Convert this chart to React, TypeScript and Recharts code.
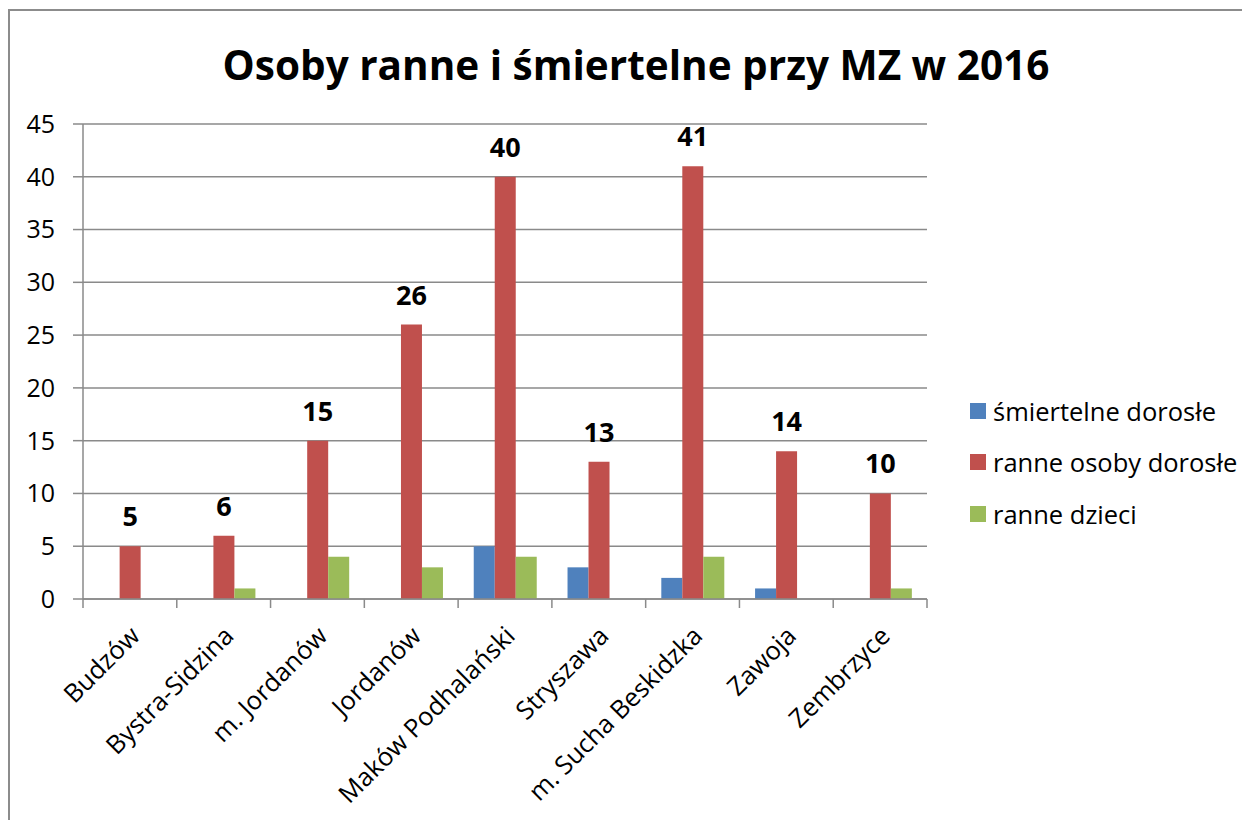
import { BarChart, Bar, XAxis, YAxis, CartesianGrid, Legend, LabelList } from "recharts";

const categories = [
  "Budzów",
  "Bystra-Sidzina",
  "m. Jordanów",
  "Jordanów",
  "Maków Podhalański",
  "Stryszawa",
  "m. Sucha Beskidzka",
  "Zawoja",
  "Zembrzyce",
];
const fatalAdults = [0, 0, 0, 0, 5, 3, 2, 1, 0];
const injuredAdults = [5, 6, 15, 26, 40, 13, 41, 14, 10];
const injuredChildren = [0, 1, 4, 3, 4, 0, 4, 0, 1];
const yTicks = [0, 5, 10, 15, 20, 25, 30, 35, 40, 45];

const seriesNames = ["śmiertelne dorosłe", "ranne osoby dorosłe", "ranne dzieci"];
const colors = ["#4F81BD", "#C0504D", "#9BBB59"];

const data = categories.map((name, i) => ({
  name,
  fatal: fatalAdults[i] || null,
  adults: injuredAdults[i] || null,
  kids: injuredChildren[i] || null,
}));

const FONT = "'Open Sans', sans-serif";
const GRID = "#8a8a8a";

const CategoryTick = (props: any) => {
  const { x, y, payload, index } = props;
  const half = payload.offset ?? 0;
  return (
    <g>
      <line x1={x - half} x2={x - half} y1={y} y2={y + 9} stroke={GRID} strokeWidth={1.5} />
      {index === categories.length - 1 && (
        <line x1={x + half} x2={x + half} y1={y} y2={y + 9} stroke={GRID} strokeWidth={1.5} />
      )}
      <text
        x={x - 2}
        y={y + 25}
        dy="0.75em"
        textAnchor="end"
        transform={`rotate(-45 ${x - 2} ${y + 25})`}
        fontSize={25.5}
        fontFamily={FONT}
        fill="#000"
      >
        {payload.value}
      </text>
    </g>
  );
};

const LegendContent = () => (
  <div style={{ paddingLeft: 43, fontFamily: FONT, fontSize: 25.5, color: "#000" }}>
    {seriesNames.map((n, i) => (
      <div key={n} style={{ display: "flex", alignItems: "center", height: 51.5 }}>
        <span style={{ width: 16, height: 16, background: colors[i], marginRight: 7, flexShrink: 0 }} />
        <span style={{ whiteSpace: "nowrap" }}>{n}</span>
      </div>
    ))}
  </div>
);

export default function App() {
  return (
    <div style={{ position: "relative", width: 1242, height: 812 }}>
      <div
        style={{
          position: "absolute",
          left: 0,
          top: 1,
          width: 1250,
          height: 820,
          borderTop: "2.5px solid #8c8c8c",
          borderLeft: "2.5px solid #8c8c8c",
        }}
      />
      <div
        style={{
          position: "absolute",
          left: 0,
          width: 1256,
          top: 29,
          textAlign: "center",
          fontFamily: FONT,
          fontWeight: 700,
          fontSize: 40.5,
          color: "#000",
        }}
      >
        Osoby ranne i śmiertelne przy MZ w 2016
      </div>
      <BarChart
        width={1242}
        height={812}
        data={data}
        margin={{ top: 116, right: 40, left: 0, bottom: 11 }}
        barCategoryGap="16.67%"
        barGap={0}
      >
        <CartesianGrid vertical={false} stroke={GRID} strokeWidth={1.5} />
        <XAxis
          dataKey="name"
          interval={0}
          height={210}
          tickSize={0}
          tickMargin={0}
          tickLine={false}
          axisLine={{ stroke: GRID, strokeWidth: 1.5 }}
          tick={<CategoryTick />}
        />
        <YAxis
          width={75}
          domain={[0, 45]}
          ticks={yTicks}
          interval={0}
          tickSize={10}
          tickMargin={18}
          tickLine={{ stroke: GRID, strokeWidth: 1.5 }}
          axisLine={{ stroke: GRID, strokeWidth: 1.5 }}
          tick={{ fontSize: 25, fontFamily: FONT, fill: "#000" }}
        />
        <Legend
          layout="vertical"
          align="right"
          verticalAlign="middle"
          width={283}
          wrapperStyle={{ top: 377 }}
          content={<LegendContent />}
        />
        <Bar dataKey="fatal" name={seriesNames[0]} fill={colors[0]} isAnimationActive={false} />
        <Bar dataKey="adults" name={seriesNames[1]} fill={colors[1]} isAnimationActive={false}>
          <LabelList
            dataKey="adults"
            position="top"
            offset={20}
            style={{ fontSize: 27, fontWeight: 700, fontFamily: FONT, fill: "#000" }}
          />
        </Bar>
        <Bar dataKey="kids" name={seriesNames[2]} fill={colors[2]} isAnimationActive={false} />
      </BarChart>
    </div>
  );
}
